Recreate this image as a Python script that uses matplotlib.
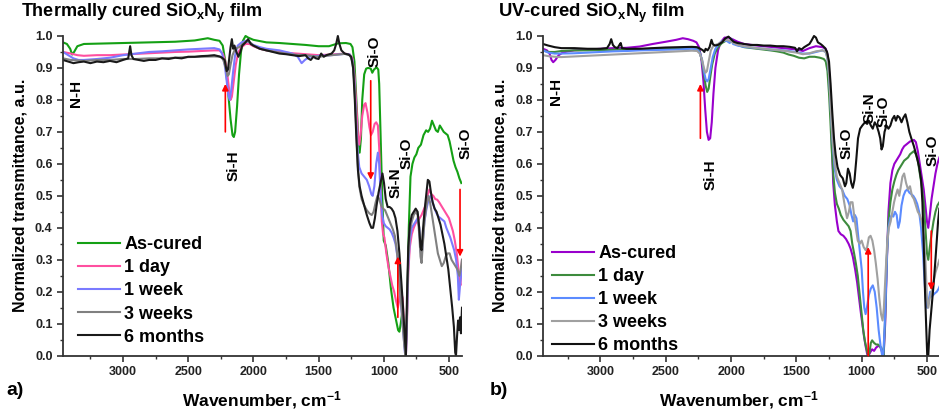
import numpy as np
import matplotlib
matplotlib.use("Agg")
import matplotlib.pyplot as plt
from matplotlib.ticker import MultipleLocator

plt.rcParams['font.family'] = ['Liberation Sans', 'DejaVu Sans']
plt.rcParams['font.weight'] = 'bold'
plt.rcParams['mathtext.fontset'] = 'custom'
plt.rcParams['mathtext.rm'] = 'Liberation Sans:bold'
plt.rcParams['mathtext.bf'] = 'Liberation Sans:bold'
plt.rcParams['mathtext.it'] = 'Liberation Sans:bold'
plt.rcParams['mathtext.default'] = 'bf'

# ---------------- panel a: thermally cured ----------------
labels = ['As-cured', '1 day', '1 week', '3 weeks', '6 months']

a_green_wn = [3460, 3430, 3405, 3390, 3375, 3350, 3300, 3200, 3000, 2800, 2600, 2450, 2350, 2300, 2260, 2235,
              2215, 2195, 2175, 2160, 2150, 2140, 2125, 2110, 2095, 2080, 2060, 2040, 2000, 1900, 1800, 1700,
              1600, 1500, 1420, 1350, 1290, 1255, 1240, 1225, 1210, 1195, 1185, 1175, 1165, 1150, 1135, 1120,
              1100, 1088, 1075, 1055, 1042, 1035, 1025, 1012, 1000, 985, 965, 945, 925, 905, 890, 880, 870,
              860, 845, 832, 820, 808, 795, 780, 765, 750, 735, 715, 695, 675, 660, 645, 630, 615, 600, 585,
              570, 555, 540, 525, 510, 495, 480, 465, 450, 435, 420, 405]
a_green = [0.980, 0.975, 0.960, 0.942, 0.950, 0.968, 0.975, 0.976, 0.978, 0.980, 0.982, 0.986, 0.993, 0.988,
           0.985, 0.970, 0.920, 0.830, 0.740, 0.690, 0.684, 0.700, 0.780, 0.880, 0.950, 0.985, 1.000, 0.995,
           0.988, 0.980, 0.978, 0.975, 0.972, 0.968, 0.968, 0.977, 0.978, 0.975, 0.965, 0.920, 0.800, 0.680,
           0.635, 0.680, 0.800, 0.880, 0.898, 0.900, 0.898, 0.885, 0.895, 0.902, 0.895, 0.850, 0.700, 0.500,
           0.360, 0.345, 0.290, 0.210, 0.150, 0.110, 0.080, 0.075, 0.100, 0.130, 0.070, 0.000, 0.150, 0.400,
           0.560, 0.600, 0.620, 0.630, 0.650, 0.660, 0.690, 0.705, 0.700, 0.710, 0.735, 0.720, 0.705, 0.700,
           0.720, 0.710, 0.700, 0.695, 0.690, 0.670, 0.640, 0.610, 0.590, 0.575, 0.555, 0.540]

a_pink_wn = [3460, 3400, 3350, 3300, 3200, 3100, 3000, 2900, 2800, 2700, 2600, 2500, 2400, 2300, 2260, 2235,
             2215, 2200, 2185, 2175, 2165, 2150, 2135, 2115, 2090, 2060, 2030, 2000, 1950, 1900, 1800, 1700,
             1600, 1500, 1400, 1300, 1260, 1240, 1225, 1210, 1198, 1188, 1178, 1165, 1150, 1140, 1125, 1110,
             1098, 1085, 1070, 1058, 1045, 1035, 1025, 1015, 1005, 995, 980, 965, 950, 935, 920, 905, 892,
             880, 868, 855, 845, 835, 830, 822, 812, 800, 785, 770, 755, 740, 725, 710, 695, 680, 665, 650,
             635, 620, 605, 590, 575, 560, 545, 530, 515, 500, 485, 470, 455, 440, 430, 420, 412, 405, 400]
a_pink = [0.950, 0.945, 0.940, 0.938, 0.940, 0.940, 0.942, 0.944, 0.946, 0.948, 0.950, 0.951, 0.953, 0.955,
          0.955, 0.945, 0.920, 0.880, 0.830, 0.800, 0.810, 0.860, 0.910, 0.950, 0.965, 0.975, 0.975, 0.968,
          0.960, 0.955, 0.950, 0.946, 0.943, 0.940, 0.942, 0.945, 0.942, 0.930, 0.880, 0.780, 0.690, 0.660,
          0.690, 0.750, 0.785, 0.790, 0.760, 0.715, 0.690, 0.700, 0.725, 0.730, 0.720, 0.650, 0.520, 0.420,
          0.380, 0.370, 0.320, 0.280, 0.250, 0.220, 0.200, 0.170, 0.150, 0.175, 0.200, 0.180, 0.100, 0.020,
          0.000, 0.100, 0.260, 0.340, 0.380, 0.400, 0.415, 0.420, 0.430, 0.440, 0.455, 0.470, 0.500, 0.520,
          0.505, 0.500, 0.490, 0.488, 0.480, 0.470, 0.460, 0.450, 0.440, 0.430, 0.410, 0.390, 0.360, 0.320,
          0.280, 0.240, 0.220, 0.270, 0.300]

a_blue_wn = [3460, 3420, 3380, 3340, 3300, 3200, 3100, 3000, 2900, 2800, 2700, 2600, 2500, 2400, 2300, 2260,
             2240, 2220, 2205, 2192, 2182, 2170, 2155, 2140, 2120, 2090, 2060, 2030, 2000, 1950, 1900, 1800,
             1700, 1660, 1630, 1605, 1570, 1500, 1400, 1300, 1260, 1240, 1225, 1212, 1200, 1188, 1170, 1150,
             1130, 1112, 1095, 1085, 1072, 1058, 1045, 1035, 1025, 1012, 1000, 985, 970, 955, 940, 925, 910,
             895, 880, 865, 850, 838, 830, 822, 812, 800, 785, 770, 755, 740, 728, 718, 710, 700, 688, 672,
             655, 640, 625, 610, 595, 580, 565, 550, 535, 520, 505, 490, 475, 460, 445, 432, 424, 415, 405, 400]
a_blue = [0.950, 0.940, 0.930, 0.925, 0.925, 0.928, 0.932, 0.940, 0.945, 0.950, 0.952, 0.955, 0.958, 0.960,
          0.962, 0.958, 0.945, 0.910, 0.860, 0.815, 0.800, 0.830, 0.890, 0.940, 0.970, 0.980, 0.985, 0.980,
          0.972, 0.965, 0.960, 0.955, 0.945, 0.935, 0.915, 0.925, 0.935, 0.938, 0.940, 0.944, 0.942, 0.925,
          0.860, 0.740, 0.640, 0.590, 0.570, 0.560, 0.550, 0.530, 0.505, 0.500, 0.530, 0.600, 0.635, 0.600,
          0.510, 0.440, 0.415, 0.405, 0.400, 0.395, 0.385, 0.370, 0.350, 0.310, 0.240, 0.150, 0.070, 0.010,
          0.000, 0.120, 0.280, 0.360, 0.400, 0.410, 0.420, 0.430, 0.400, 0.330, 0.310, 0.360, 0.420, 0.460,
          0.490, 0.500, 0.480, 0.460, 0.445, 0.435, 0.430, 0.425, 0.420, 0.400, 0.385, 0.370, 0.350, 0.330,
          0.300, 0.250, 0.175, 0.220, 0.260, 0.280]

a_gray_wn = [3460, 3400, 3300, 3200, 3100, 3000, 2900, 2800, 2700, 2600, 2500, 2400, 2300, 2250, 2230, 2212,
             2198, 2188, 2175, 2160, 2140, 2110, 2080, 2050, 2020, 2000, 1950, 1900, 1800, 1700, 1600, 1500,
             1400, 1300, 1260, 1240, 1225, 1212, 1200, 1188, 1170, 1150, 1130, 1110, 1092, 1078, 1062, 1048,
             1035, 1020, 1005, 990, 975, 960, 945, 930, 915, 900, 885, 870, 855, 842, 832, 822, 812, 800, 785,
             770, 755, 740, 728, 718, 710, 700, 688, 672, 658, 645, 630, 615, 600, 585, 570, 555, 540, 525,
             510, 495, 480, 465, 450, 435, 420, 410, 400]
a_gray = [0.930, 0.925, 0.922, 0.925, 0.925, 0.928, 0.928, 0.930, 0.930, 0.932, 0.934, 0.935, 0.936, 0.935,
          0.925, 0.900, 0.875, 0.880, 0.910, 0.940, 0.960, 0.965, 0.975, 0.985, 0.978, 0.970, 0.960, 0.955,
          0.948, 0.942, 0.940, 0.935, 0.940, 0.944, 0.940, 0.920, 0.850, 0.720, 0.600, 0.530, 0.490, 0.470,
          0.455, 0.445, 0.440, 0.450, 0.480, 0.500, 0.490, 0.470, 0.460, 0.455, 0.440, 0.425, 0.410, 0.395,
          0.375, 0.330, 0.260, 0.180, 0.100, 0.030, 0.000, 0.150, 0.300, 0.390, 0.420, 0.440, 0.450, 0.440,
          0.380, 0.310, 0.290, 0.350, 0.420, 0.470, 0.500, 0.480, 0.440, 0.400, 0.360, 0.320, 0.300, 0.280,
          0.290, 0.310, 0.320, 0.320, 0.300, 0.290, 0.280, 0.270, 0.250, 0.270, 0.300]

a_black_wn = [3460, 3420, 3380, 3340, 3300, 3250, 3200, 3150, 3100, 3050, 3000, 2960, 2945, 2935, 2920, 2880,
              2840, 2800, 2750, 2700, 2650, 2600, 2550, 2500, 2450, 2400, 2350, 2300, 2260, 2240, 2220, 2205,
              2195, 2185, 2175, 2165, 2155, 2145, 2130, 2115, 2100, 2085, 2060, 2040, 2020, 2000, 1950, 1900,
              1850, 1800, 1750, 1700, 1650, 1600, 1580, 1560, 1540, 1520, 1500, 1480, 1460, 1440, 1400, 1380,
              1365, 1352, 1340, 1325, 1300, 1270, 1250, 1235, 1222, 1210, 1198, 1185, 1170, 1150, 1130, 1110,
              1095, 1082, 1068, 1055, 1040, 1025, 1010, 998, 985, 970, 955, 940, 925, 910, 895, 880, 868, 855,
              845, 835, 830, 822, 812, 800, 785, 770, 755, 740, 728, 718, 710, 700, 688, 675, 662, 650, 638,
              625, 610, 595, 580, 565, 550, 535, 520, 505, 490, 475, 462, 452, 446, 438, 430, 422, 415, 408, 400]
a_black = [0.925, 0.920, 0.915, 0.918, 0.920, 0.915, 0.920, 0.918, 0.922, 0.918, 0.925, 0.930, 0.968, 0.940,
           0.928, 0.925, 0.922, 0.925, 0.925, 0.930, 0.928, 0.932, 0.930, 0.935, 0.935, 0.937, 0.938, 0.940,
           0.936, 0.932, 0.925, 0.890, 0.895, 0.930, 0.965, 0.990, 0.960, 0.970, 0.950, 0.935, 0.950, 0.970,
           0.980, 0.990, 0.975, 0.970, 0.960, 0.955, 0.950, 0.945, 0.943, 0.940, 0.937, 0.940, 0.930, 0.925,
           0.935, 0.930, 0.928, 0.945, 0.935, 0.940, 0.945, 0.955, 0.975, 1.000, 0.975, 0.955, 0.945, 0.942,
           0.935, 0.900, 0.800, 0.680, 0.580, 0.530, 0.500, 0.470, 0.440, 0.415, 0.400, 0.400, 0.430, 0.470,
           0.510, 0.540, 0.570, 0.540, 0.490, 0.465, 0.465, 0.460, 0.450, 0.430, 0.390, 0.320, 0.250, 0.170,
           0.100, 0.030, 0.000, 0.180, 0.340, 0.410, 0.440, 0.450, 0.460, 0.450, 0.400, 0.340, 0.330, 0.390,
           0.450, 0.500, 0.550, 0.545, 0.510, 0.480, 0.460, 0.450, 0.430, 0.410, 0.380, 0.350, 0.310, 0.270,
           0.210, 0.150, 0.090, 0.010, 0.000, 0.060, 0.110, 0.080, 0.120, 0.070, 0.150]

# ---------------- panel b: UV cured ----------------
b_purple_wn = [3440, 3410, 3390, 3375, 3362, 3345, 3320, 3290, 3250, 3200, 3100, 3000, 2900, 2800, 2700, 2600,
               2500, 2420, 2370, 2330, 2290, 2265, 2245, 2228, 2212, 2198, 2185, 2172, 2160, 2148, 2135, 2120,
               2100, 2080, 2050, 2020, 1990, 1950, 1900, 1800, 1700, 1600, 1500, 1450, 1400, 1350, 1300, 1275,
               1260, 1248, 1238, 1228, 1218, 1205, 1190, 1178, 1160, 1140, 1120, 1100, 1085, 1068, 1050, 1035,
               1020, 1005, 995, 982, 970, 958, 948, 935, 920, 905, 890, 875, 862, 850, 840, 832, 820, 808, 795,
               780, 765, 750, 735, 720, 705, 690, 675, 660, 645, 630, 615, 600, 585, 570, 555, 540, 525, 512,
               500, 490, 478, 465, 450, 435, 420, 405]
b_purple = [0.960, 0.955, 0.945, 0.925, 0.918, 0.925, 0.940, 0.948, 0.952, 0.955, 0.957, 0.960, 0.962, 0.963,
            0.967, 0.975, 0.982, 0.988, 0.993, 0.990, 0.985, 0.980, 0.965, 0.930, 0.860, 0.770, 0.700, 0.675,
            0.680, 0.730, 0.820, 0.900, 0.955, 0.980, 0.995, 0.995, 0.990, 0.982, 0.975, 0.970, 0.966, 0.962,
            0.958, 0.953, 0.962, 0.968, 0.965, 0.960, 0.940, 0.880, 0.780, 0.660, 0.540, 0.470, 0.420, 0.390,
            0.380, 0.375, 0.365, 0.350, 0.335, 0.310, 0.270, 0.230, 0.180, 0.130, 0.100, 0.060, 0.030, 0.005,
            0.000, 0.010, 0.020, 0.015, 0.025, 0.030, 0.030, 0.020, 0.005, 0.000, 0.100, 0.280, 0.450, 0.540,
            0.580, 0.600, 0.610, 0.620, 0.630, 0.645, 0.655, 0.660, 0.665, 0.670, 0.672, 0.675, 0.668, 0.640,
            0.600, 0.560, 0.520, 0.470, 0.420, 0.400, 0.440, 0.490, 0.530, 0.570, 0.600, 0.620]

b_green_wn = [3440, 3400, 3350, 3300, 3200, 3100, 3000, 2900, 2800, 2700, 2600, 2500, 2400, 2300, 2260, 2240,
              2222, 2208, 2195, 2183, 2172, 2160, 2145, 2125, 2100, 2070, 2040, 2010, 1980, 1950, 1900, 1800,
              1700, 1650, 1600, 1560, 1520, 1480, 1440, 1400, 1360, 1320, 1290, 1275, 1262, 1250, 1240, 1230,
              1218, 1205, 1190, 1175, 1160, 1140, 1120, 1100, 1085, 1072, 1058, 1045, 1030, 1015, 1000, 988,
              975, 962, 950, 940, 930, 920, 905, 890, 875, 862, 850, 840, 832, 820, 808, 795, 780, 765, 750,
              735, 720, 705, 690, 675, 660, 645, 630, 615, 600, 585, 570, 555, 540, 525, 512, 500, 490, 478,
              465, 450, 435, 420, 405]
b_green = [0.955, 0.950, 0.950, 0.953, 0.955, 0.955, 0.956, 0.957, 0.958, 0.958, 0.960, 0.961, 0.962, 0.964,
           0.962, 0.950, 0.920, 0.880, 0.845, 0.825, 0.835, 0.870, 0.910, 0.945, 0.965, 0.978, 0.985, 0.985,
           0.978, 0.972, 0.965, 0.960, 0.955, 0.952, 0.948, 0.942, 0.938, 0.932, 0.930, 0.935, 0.935, 0.932,
           0.928, 0.920, 0.890, 0.820, 0.740, 0.650, 0.570, 0.510, 0.475, 0.460, 0.440, 0.425, 0.415, 0.405,
           0.390, 0.350, 0.320, 0.290, 0.250, 0.190, 0.130, 0.080, 0.045, 0.020, 0.000, 0.010, 0.040, 0.048,
           0.040, 0.035, 0.035, 0.030, 0.025, 0.010, 0.000, 0.120, 0.300, 0.420, 0.480, 0.520, 0.545, 0.565,
           0.580, 0.590, 0.600, 0.610, 0.615, 0.620, 0.630, 0.635, 0.640, 0.630, 0.610, 0.570, 0.530, 0.480,
           0.400, 0.320, 0.300, 0.340, 0.380, 0.420, 0.450, 0.470, 0.480]

b_blue_wn = [3440, 3400, 3350, 3300, 3200, 3100, 3000, 2900, 2800, 2700, 2600, 2500, 2400, 2300, 2260, 2240,
             2222, 2208, 2195, 2183, 2172, 2158, 2140, 2120, 2095, 2065, 2035, 2010, 1995, 1985, 1950, 1900,
             1800, 1700, 1600, 1500, 1450, 1400, 1350, 1300, 1275, 1262, 1250, 1240, 1230, 1218, 1205, 1190,
             1170, 1150, 1130, 1110, 1092, 1078, 1065, 1052, 1040, 1028, 1015, 1000, 990, 980, 970, 960, 945,
             930, 915, 900, 885, 870, 855, 843, 835, 825, 815, 805, 795, 782, 770, 758, 745, 732, 720, 708,
             695, 680, 665, 650, 635, 620, 605, 590, 575, 560, 545, 530, 518, 508, 498, 488, 476, 465, 452,
             440, 425, 410, 400]
b_blue = [0.955, 0.948, 0.945, 0.945, 0.946, 0.948, 0.950, 0.952, 0.953, 0.955, 0.956, 0.957, 0.958, 0.960,
          0.958, 0.948, 0.925, 0.890, 0.865, 0.858, 0.865, 0.895, 0.935, 0.960, 0.975, 0.985, 0.985, 0.978,
          0.990, 0.975, 0.970, 0.966, 0.962, 0.958, 0.955, 0.950, 0.945, 0.945, 0.950, 0.955, 0.950, 0.930,
          0.880, 0.800, 0.720, 0.640, 0.580, 0.550, 0.530, 0.520, 0.500, 0.490, 0.470, 0.440, 0.420, 0.440,
          0.430, 0.380, 0.330, 0.270, 0.200, 0.150, 0.130, 0.150, 0.190, 0.210, 0.220, 0.200, 0.150, 0.080,
          0.030, 0.000, 0.000, 0.080, 0.200, 0.330, 0.400, 0.430, 0.440, 0.435, 0.450, 0.440, 0.400, 0.420,
          0.470, 0.500, 0.515, 0.520, 0.510, 0.505, 0.500, 0.490, 0.475, 0.450, 0.400, 0.320, 0.230, 0.170,
          0.150, 0.170, 0.200, 0.185, 0.190, 0.195, 0.200, 0.210, 0.220]

b_gray_wn = [3440, 3400, 3350, 3300, 3200, 3100, 3000, 2900, 2800, 2700, 2600, 2500, 2400, 2300, 2260, 2240,
             2222, 2208, 2196, 2185, 2172, 2155, 2135, 2100, 2070, 2040, 2010, 1980, 1950, 1900, 1800, 1700,
             1600, 1500, 1450, 1400, 1350, 1300, 1275, 1262, 1250, 1240, 1230, 1218, 1205, 1190, 1170, 1150,
             1130, 1112, 1098, 1085, 1070, 1058, 1045, 1030, 1015, 1000, 985, 970, 958, 945, 932, 918, 905,
             892, 878, 865, 852, 840, 830, 818, 805, 792, 778, 765, 752, 740, 725, 712, 700, 688, 675, 660,
             645, 630, 615, 600, 585, 570, 555, 540, 525, 512, 500, 490, 478, 465, 450, 435, 420, 405]
b_gray = [0.940, 0.937, 0.935, 0.934, 0.936, 0.938, 0.940, 0.942, 0.944, 0.946, 0.948, 0.950, 0.952, 0.954,
          0.953, 0.945, 0.925, 0.900, 0.885, 0.890, 0.920, 0.955, 0.970, 0.975, 0.982, 0.988, 0.985, 0.978,
          0.972, 0.968, 0.962, 0.958, 0.954, 0.948, 0.943, 0.946, 0.952, 0.955, 0.950, 0.930, 0.880, 0.800,
          0.720, 0.650, 0.600, 0.560, 0.540, 0.520, 0.470, 0.430, 0.450, 0.480, 0.480, 0.440, 0.400, 0.360,
          0.350, 0.360, 0.340, 0.330, 0.340, 0.370, 0.375, 0.360, 0.330, 0.290, 0.240, 0.180, 0.130, 0.110,
          0.150, 0.250, 0.350, 0.400, 0.420, 0.450, 0.480, 0.500, 0.520, 0.500, 0.530, 0.560, 0.570, 0.540,
          0.520, 0.530, 0.500, 0.490, 0.470, 0.450, 0.440, 0.420, 0.380, 0.300, 0.180, 0.150, 0.180, 0.200,
          0.230, 0.260, 0.280, 0.300]

b_black_wn = [3440, 3400, 3350, 3300, 3200, 3100, 3000, 2950, 2930, 2918, 2905, 2890, 2870, 2855, 2845, 2835,
              2800, 2700, 2600, 2500, 2400, 2300, 2260, 2235, 2215, 2205, 2195, 2180, 2165, 2150, 2140, 2125,
              2100, 2070, 2045, 2020, 2000, 1980, 1950, 1900, 1850, 1800, 1750, 1700, 1650, 1600, 1550, 1510,
              1495, 1480, 1460, 1440, 1420, 1400, 1385, 1365, 1350, 1335, 1315, 1300, 1280, 1265, 1250, 1238,
              1225, 1212, 1200, 1185, 1165, 1145, 1128, 1118, 1105, 1092, 1080, 1068, 1055, 1042, 1028, 1012,
              995, 975, 958, 945, 930, 915, 900, 885, 870, 858, 848, 838, 825, 810, 795, 780, 765, 750, 738,
              725, 710, 695, 680, 665, 650, 635, 620, 600, 580, 560, 545, 535, 525, 515, 505, 498, 490, 480,
              465, 450, 437, 425, 415, 405]
b_black = [0.975, 0.970, 0.965, 0.962, 0.962, 0.960, 0.960, 0.962, 0.975, 0.990, 0.972, 0.965, 0.962, 0.972,
           0.978, 0.962, 0.960, 0.960, 0.962, 0.964, 0.965, 0.966, 0.965, 0.960, 0.955, 0.950, 0.960, 0.955,
           0.965, 0.988, 0.975, 0.970, 0.972, 0.980, 0.992, 0.998, 0.990, 0.982, 0.978, 0.975, 0.972, 0.972,
           0.970, 0.970, 0.968, 0.968, 0.966, 0.963, 0.952, 0.962, 0.958, 0.965, 0.970, 0.975, 0.985, 1.000,
           0.995, 0.980, 0.975, 0.970, 0.962, 0.950, 0.920, 0.850, 0.760, 0.680, 0.630, 0.590, 0.565, 0.555,
           0.530, 0.540, 0.585, 0.570, 0.540, 0.525, 0.550, 0.610, 0.680, 0.710, 0.720, 0.730, 0.725, 0.735,
           0.720, 0.710, 0.730, 0.720, 0.700, 0.680, 0.645, 0.655, 0.700, 0.720, 0.710, 0.720, 0.740, 0.750,
           0.735, 0.750, 0.745, 0.730, 0.745, 0.755, 0.730, 0.700, 0.680, 0.655, 0.625, 0.590, 0.550, 0.480,
           0.350, 0.200, 0.080, 0.000, 0.000, 0.080, 0.150, 0.220, 0.290, 0.360, 0.420, 0.460]

a_series = [(a_green_wn, a_green, '#14a014'), (a_pink_wn, a_pink, '#ff4fa0'),
            (a_blue_wn, a_blue, '#7a7aff'), (a_gray_wn, a_gray, '#808080'),
            (a_black_wn, a_black, '#1a1a1a')]
b_series = [(b_purple_wn, b_purple, '#9900cc'), (b_green_wn, b_green, '#3d8b3d'),
            (b_blue_wn, b_blue, '#5b8bff'), (b_gray_wn, b_gray, '#a0a0a0'),
            (b_black_wn, b_black, '#111111')]

# band labels: (text, wavenumber, transmittance)
a_bands = [('N-H', 3361, 0.82), ('Si-H', 2154, 0.593), ('Si-O', 1069, 0.952),
           ('Si-N', 908, 0.54), ('Si-O', 823, 0.633), ('Si-O', 372, 0.665)]
b_bands = [('N-H', 3337, 0.827), ('Si-H', 2158, 0.565), ('Si-O', 1118, 0.664),
           ('Si-N', 942, 0.777), ('Si-O', 835, 0.764), ('Si-O', 460, 0.643)]
# red arrows: (wavenumber, from, to)
a_arrows = [(2215, 0.70, 0.85), (1100, 0.86, 0.55), (892, 0.12, 0.31), (415, 0.52, 0.31)]
b_arrows = [(2235, 0.68, 0.85), (950, 0.0, 0.34), (467, 0.39, 0.205)]

fig = plt.figure(figsize=(9.39, 4.15), dpi=100)
ax_a = fig.add_axes([0.0671, 0.1429, 0.4249, 0.7781])
ax_b = fig.add_axes([0.5783, 0.1429, 0.4228, 0.7781])

panels = [(ax_a, a_series, a_bands, a_arrows, (3460, 400), 0.0376, 0.370),
          (ax_b, b_series, b_bands, b_arrows, (3440, 400), 0.023, 0.343)]

for ax, series, bands, arrows, xl, lx, ly in panels:
    for (wn, t, c), lab in zip(series, labels):
        ax.plot(wn, t, color=c, lw=1.5, label=lab)
    for txt, x, y in bands:
        ax.text(x, y, txt, rotation=90, ha='center', va='center', fontsize=11,
                fontweight='bold', clip_on=False)
    for x, y0, y1 in arrows:
        ax.annotate('', xy=(x, y1), xytext=(x, y0),
                    arrowprops=dict(arrowstyle='-|>', color='red', lw=1.2,
                                    mutation_scale=9, shrinkA=0, shrinkB=0))
    ax.set_xlim(*xl)
    ax.set_ylim(0, 1.01)
    ax.xaxis.set_minor_locator(MultipleLocator(250))
    ax.yaxis.set_minor_locator(MultipleLocator(0.05))
    ax.set_yticks(np.arange(0, 1.01, 0.1))
    ax.set_xticks([3000, 2500, 2000, 1500, 1000, 500])
    ax.set_yticklabels(['%.1f' % v for v in np.arange(0, 1.01, 0.1)])
    ax.tick_params(which='major', direction='out', length=4, width=1.2, labelsize=9, colors='#333333',
                   labelcolor='#222222')
    ax.tick_params(which='minor', direction='out', length=2.5, width=1.0, colors='#333333')
    for lbl in ax.get_xticklabels() + ax.get_yticklabels():
        lbl.set_fontweight('bold')
    for s in ['top', 'right']:
        ax.spines[s].set_visible(False)
    for s in ['left', 'bottom']:
        ax.spines[s].set_linewidth(1.3)
        ax.spines[s].set_color('#333333')
    ax.spines['left'].set_bounds(0, 1.0)
    ax.legend(loc='upper left', bbox_to_anchor=(lx, ly), frameon=False,
              handlelength=2.3, handletextpad=0.25, labelspacing=0.34, borderpad=0, borderaxespad=0,
              prop={'weight': 'bold', 'size': 13})

fig.text(0.022, 0.968, 'Thermally cured SiO$_x$N$_y$ film', fontsize=13, fontweight='bold', va='center')
fig.text(0.530, 0.968, 'UV-cured SiO$_x$N$_y$ film', fontsize=13.3, fontweight='bold', va='center')
fig.text(0.021, 0.53, 'Normalized transmittance, a.u.', rotation=90, fontsize=11.5, fontweight='bold',
         ha='center', va='center')
fig.text(0.532, 0.53, 'Normalized transmittance, a.u.', rotation=90, fontsize=11.5, fontweight='bold',
         ha='center', va='center')
fig.text(0.279, 0.036, 'Wavenumber, cm$^{-1}$', fontsize=12.5, fontweight='bold', ha='center', va='center')
fig.text(0.787, 0.036, 'Wavenumber, cm$^{-1}$', fontsize=12.5, fontweight='bold', ha='center', va='center')
fig.text(0.007, 0.06, 'a)', fontsize=14, fontweight='bold', va='center')
fig.text(0.521, 0.06, 'b)', fontsize=14, fontweight='bold', va='center')

fig.savefig('out.png', dpi=100)
